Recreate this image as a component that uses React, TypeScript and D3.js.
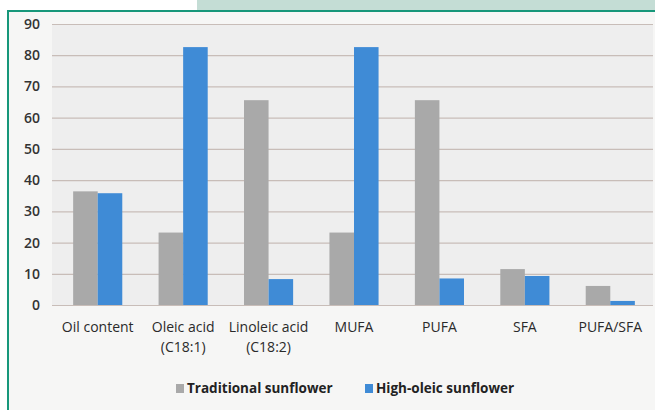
import React, { useEffect, useRef } from 'react';
import * as d3 from 'd3';

// categories (two-line labels split by \n)
const categories = [
  'Oil content',
  'Oleic acid\n(C18:1)',
  'Linoleic acid\n(C18:2)',
  'MUFA',
  'PUFA',
  'SFA',
  'PUFA/SFA',
];
const traditional = [36.4, 23.2, 65.6, 23.2, 65.6, 11.5, 6.1];
const highOleic = [35.8, 82.6, 8.3, 82.6, 8.5, 9.3, 1.3];
const seriesNames = ['Traditional sunflower', 'High-oleic sunflower'];
const yTicks = [0, 10, 20, 30, 40, 50, 60, 70, 80, 90];

const W = 655;
const H = 410;
const GRAY = '#a9a9a9';
const BLUE = '#3f8bd6';
const FONT = '"Open Sans", "Liberation Sans", sans-serif';

const App: React.FC = () => {
  const svgRef = useRef<SVGSVGElement>(null);

  useEffect(() => {
    if (!svgRef.current) return;
    const svg = d3.select(svgRef.current);
    svg.selectAll('*').remove();

    // frame: teal tab on top, green border top/left
    svg.append('rect').attr('x', 0).attr('y', 0).attr('width', W).attr('height', H).attr('fill', '#ffffff');
    svg.append('rect').attr('x', 197).attr('y', 0).attr('width', W - 197).attr('height', 11).attr('fill', '#c4ddd5');
    svg.append('rect').attr('x', 9).attr('y', 12).attr('width', W - 9).attr('height', H - 12).attr('fill', '#f6f6f5');
    svg.append('line').attr('x1', 8).attr('x2', W).attr('y1', 11).attr('y2', 11)
      .attr('stroke', '#17977a').attr('stroke-width', 2);
    svg.append('line').attr('x1', 8).attr('x2', 8).attr('y1', 10).attr('y2', H)
      .attr('stroke', '#17977a').attr('stroke-width', 2);

    const x0 = d3.scaleBand<string>().domain(categories).range([55, 653]).paddingInner(0.425).paddingOuter(0.2125);
    const x1 = d3.scaleBand<string>().domain(seriesNames).range([0, x0.bandwidth()]);
    const y = d3.scaleLinear().domain([0, 90]).range([305, 24]);
    const color = d3.scaleOrdinal<string, string>().domain(seriesNames).range([GRAY, BLUE]);

    // plot background
    svg.append('rect').attr('x', 52).attr('y', y(90)).attr('width', 601).attr('height', y(0) - y(90))
      .attr('fill', '#eeeeee');

    // gridlines
    svg.append('g').selectAll('line').data(yTicks).enter().append('line')
      .attr('x1', 52).attr('x2', 653)
      .attr('y1', d => y(d) + 0.5).attr('y2', d => y(d) + 0.5)
      .attr('stroke', '#c8bdb8').attr('stroke-width', 1.2);

    // y tick labels
    svg.append('g').selectAll('text').data(yTicks).enter().append('text')
      .attr('x', 40).attr('y', d => y(d)).attr('dy', '0.36em')
      .attr('text-anchor', 'end')
      .style('font-family', FONT).style('font-size', '14px').style('font-weight', 600)
      .attr('fill', '#333')
      .text(d => d);

    // bars
    const rows = categories.map((c, i) => ({ c, vals: [traditional[i], highOleic[i]] }));
    const grp = svg.append('g').selectAll('g').data(rows).enter().append('g')
      .attr('transform', d => `translate(${x0(d.c)},0)`);
    grp.selectAll('rect')
      .data(d => d.vals.map((v, k) => ({ name: seriesNames[k], v })))
      .enter().append('rect')
      .attr('x', d => x1(d.name) as number)
      .attr('y', d => y(d.v))
      .attr('width', x1.bandwidth())
      .attr('height', d => y(0) - y(d.v))
      .attr('fill', d => color(d.name));

    // category labels
    const lab = svg.append('g').selectAll('text').data(categories).enter().append('text')
      .attr('x', d => (x0(d) as number) + x0.bandwidth() / 2)
      .attr('y', 332)
      .attr('text-anchor', 'middle')
      .style('font-family', FONT).style('font-size', '14px').style('font-weight', 500)
      .attr('fill', '#2a2a2a');
    lab.selectAll('tspan').data(d => d.split('\n')).enter().append('tspan')
      .attr('x', function () {
        return (this as any).parentNode.getAttribute('x');
      })
      .attr('dy', (_d, i) => (i === 0 ? 0 : 20))
      .text(d => d);

    // legend
    const legX = [176, 365];
    const leg = svg.append('g').selectAll('g').data(seriesNames).enter().append('g')
      .attr('transform', (_d, i) => `translate(${legX[i]},384)`);
    leg.append('rect').attr('width', 8).attr('height', 9).attr('fill', d => color(d));
    leg.append('text').attr('x', 11).attr('y', 9)
      .style('font-family', FONT).style('font-size', '13.5px').style('font-weight', 700)
      .attr('fill', '#222')
      .text(d => d);
  }, []);

  return (
    <svg
      ref={svgRef}
      width={W}
      height={H}
      style={{ position: 'fixed', left: 0, top: 0, display: 'block' }}
    />
  );
};

export default App;
